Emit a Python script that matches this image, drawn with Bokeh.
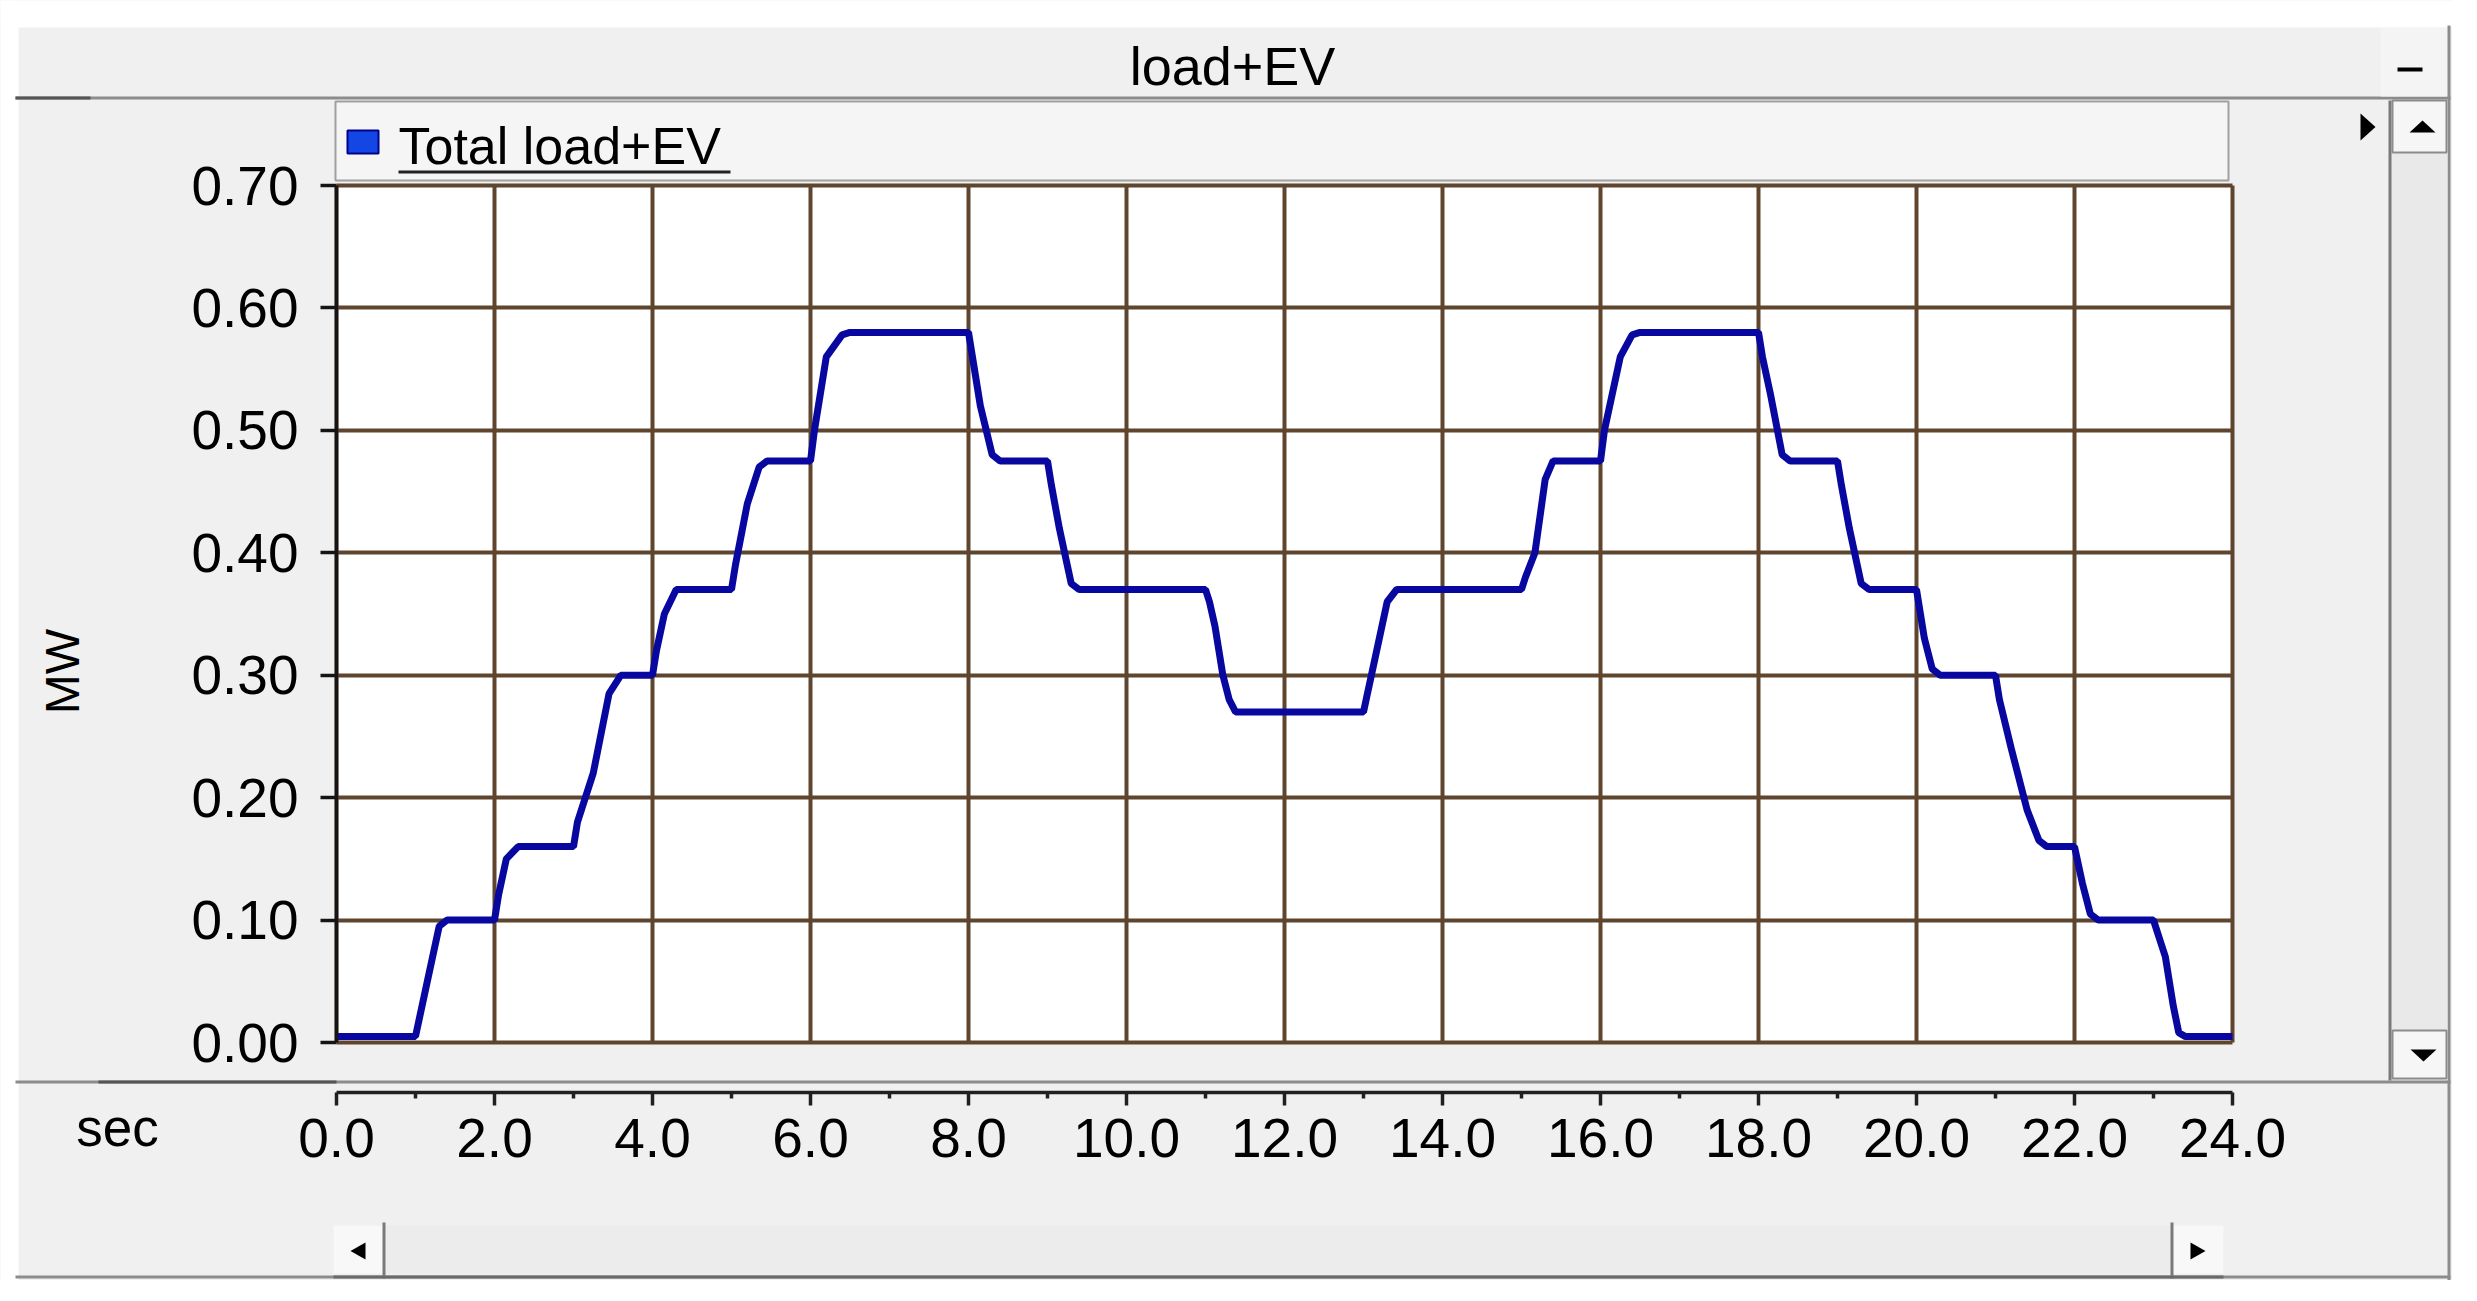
from bokeh.plotting import figure
from bokeh.models import FixedTicker, LinearAxis, Range1d, Grid
from bokeh.core.properties import value
from bokeh.embed import file_html
from bokeh.resources import INLINE

# ---------------- data ----------------
time_h = [0.0, 1.0, 1.05, 1.15, 1.3, 1.4,
          2.0, 2.05, 2.15, 2.3,
          3.0, 3.05, 3.25, 3.45, 3.6,
          4.0, 4.05, 4.15, 4.3,
          5.0, 5.05, 5.2, 5.35, 5.45,
          6.0, 6.05, 6.2, 6.4, 6.5,
          8.0, 8.05, 8.15, 8.3, 8.4,
          9.0, 9.05, 9.15, 9.3, 9.4,
          11.0, 11.05, 11.12, 11.22, 11.3, 11.38,
          13.0, 13.05, 13.1, 13.2, 13.3, 13.42,
          15.0, 15.05, 15.17, 15.3, 15.4,
          16.0, 16.05, 16.25, 16.4, 16.5,
          18.0, 18.05, 18.15, 18.3, 18.4,
          19.0, 19.05, 19.15, 19.3, 19.4,
          20.0, 20.05, 20.1, 20.2, 20.3,
          21.0, 21.05, 21.2, 21.4, 21.55, 21.65,
          22.0, 22.05, 22.1, 22.2, 22.3,
          23.0, 23.05, 23.15, 23.25, 23.32, 23.4,
          24.0]
load_mw = [0.005, 0.005, 0.02, 0.05, 0.095, 0.10,
           0.10, 0.12, 0.15, 0.16,
           0.16, 0.18, 0.22, 0.285, 0.30,
           0.30, 0.32, 0.35, 0.37,
           0.37, 0.39, 0.44, 0.47, 0.475,
           0.475, 0.50, 0.56, 0.578, 0.58,
           0.58, 0.56, 0.52, 0.48, 0.475,
           0.475, 0.455, 0.42, 0.375, 0.37,
           0.37, 0.36, 0.34, 0.30, 0.28, 0.27,
           0.27, 0.285, 0.30, 0.33, 0.36, 0.37,
           0.37, 0.38, 0.40, 0.46, 0.475,
           0.475, 0.50, 0.56, 0.578, 0.58,
           0.58, 0.56, 0.53, 0.48, 0.475,
           0.475, 0.455, 0.42, 0.375, 0.37,
           0.37, 0.35, 0.33, 0.305, 0.30,
           0.30, 0.28, 0.24, 0.19, 0.165, 0.16,
           0.16, 0.145, 0.13, 0.105, 0.10,
           0.10, 0.09, 0.07, 0.03, 0.008, 0.005,
           0.005]

x_ticks = [0, 2, 4, 6, 8, 10, 12, 14, 16, 18, 20, 22, 24]
x_tick_labels = ["0.0", "2.0", "4.0", "6.0", "8.0", "10.0", "12.0", "14.0",
                 "16.0", "18.0", "20.0", "22.0", "24.0"]
x_minor_ticks = [1, 3, 5, 7, 9, 11, 13, 15, 17, 19, 21, 23]
y_ticks = [0.0, 0.1, 0.2, 0.3, 0.4, 0.5, 0.6, 0.7]
y_tick_labels = ["0.00", "0.10", "0.20", "0.30", "0.40", "0.50", "0.60", "0.70"]
x_limits = (0, 24)
y_limits = (0, 0.7)

series_name = "Total load+EV"
window_title = "load+EV"
y_label = "MW"
x_label = "sec"

# ---------------- layout & styling ----------------
FONT = "Liberation Sans"
BG = "#f0f0f0"
GRID = "#5f452d"
LINE = "#0808a0"
EDGE = "#8c8c8c"

W, H = 2452, 1280
# pixel box of the plotting area inside the window
PL, PR, PT, PB = 336, 2232, 185, 1042
RULER_Y = 1092  # pixel row of the time ruler

sx = (x_limits[1] - x_limits[0]) / (PR - PL)
sy = (y_limits[1] - y_limits[0]) / (PB - PT)
x_range = Range1d(x_limits[0] - PL * sx, x_limits[1] + (W - PR) * sx)
y_range = Range1d(y_limits[0] - (H - PB) * sy, y_limits[1] + PT * sy)
ruler_at = y_limits[0] - (RULER_Y - PB) * sy

p = figure(width=W, height=H, output_backend="svg", toolbar_location=None,
           x_range=x_range, y_range=y_range,
           x_axis_location=None, y_axis_location=None, title=None,
           min_border=0)
p.extra_x_ranges = {"px": Range1d(0, W)}
p.extra_y_ranges = {"py": Range1d(H, 0)}
p.center = []
p.border_fill_color = BG
p.background_fill_color = BG
p.outline_line_color = None


def box(l, t, r, b, fill, line=None, lw=0, level="image"):
    p.quad(left=[l], right=[r], top=[t], bottom=[b], x_range_name="px", y_range_name="py",
           fill_color=fill, line_color=line, line_width=lw, level=level)


def tri(xs, ys):
    p.patch(xs, ys, x_range_name="px", y_range_name="py", fill_color="black",
            line_color=None, level="overlay")


def text(x, y, s, size, align="left", angle=0.0, baseline="alphabetic"):
    p.text(x=[x], y=[y], text=[s], x_range_name="px", y_range_name="py",
           text_font=value(FONT), text_font_size=value(size), text_color="black",
           text_align=align, text_baseline=baseline, angle=angle, level="overlay")


# white outside the window
box(0, 0, W, 27, "white")
box(0, 0, 18, H, "white")
# plot area background
box(PL, PT, PR, PB, "white")

# grid lines (bounded to the plotting area)
if "cross_bounds" in Grid.properties():
    p.add_layout(Grid(dimension=0, ticker=FixedTicker(ticks=x_ticks), bounds=x_limits,
                      cross_bounds=y_limits, grid_line_color=GRID, grid_line_width=4))
    p.add_layout(Grid(dimension=1, ticker=FixedTicker(ticks=y_ticks), bounds=y_limits,
                      cross_bounds=x_limits, grid_line_color=GRID, grid_line_width=4))
else:
    p.segment(x0=x_ticks, x1=x_ticks, y0=[y_limits[0]] * len(x_ticks),
              y1=[y_limits[1]] * len(x_ticks), line_color=GRID, line_width=4)
    p.segment(x0=[x_limits[0]] * len(y_ticks), x1=[x_limits[1]] * len(y_ticks),
              y0=y_ticks, y1=y_ticks, line_color=GRID, line_width=4)

# y axis at the left edge of the plotting area
yaxis = LinearAxis(ticker=FixedTicker(ticks=y_ticks), fixed_location=x_limits[0],
                   bounds=y_limits,
                   major_label_overrides={t: s for t, s in zip(y_ticks, y_tick_labels)},
                   axis_line_color="#151515", axis_line_width=3.5,
                   major_tick_out=16, major_tick_in=0, major_tick_line_width=3.5,
                   major_tick_line_color="#151515",
                   minor_tick_line_color=None,
                   major_label_text_font=FONT, major_label_text_font_size="55px",
                   major_label_text_color="black", major_label_standoff=22)
p.add_layout(yaxis, "left")

# time ruler below the plotting area
xaxis = LinearAxis(ticker=FixedTicker(ticks=x_ticks, minor_ticks=x_minor_ticks),
                   fixed_location=ruler_at, bounds=x_limits,
                   major_label_overrides={t: s for t, s in zip(x_ticks, x_tick_labels)},
                   axis_line_color="#202020", axis_line_width=3.5,
                   major_tick_out=13, major_tick_in=0, major_tick_line_width=3.5,
                   major_tick_line_color="#202020",
                   minor_tick_out=6, minor_tick_in=0, minor_tick_line_width=3.5,
                   minor_tick_line_color="#202020",
                   major_label_text_font=FONT, major_label_text_font_size="55px",
                   major_label_text_color="black", major_label_standoff=13)
p.add_layout(xaxis, "below")

# data line
p.line(time_h, load_mw, line_color=LINE, line_width=7)

# ---------------- window chrome ----------------
# title bar separator
box(15, 96, 2450, 99, EDGE)
box(15, 96, 90, 99, "#555555")
# minimize button
box(2380, 27, 2447, 96, "#f4f4f4")
box(2397, 67, 2422, 71, "black", level="overlay")
box(2447, 25, 2450, H, EDGE)
# legend strip with swatch and underline
box(335, 101, 2228, 180, "#f5f5f5", line="#a0a0a0", lw=2)
box(347, 130, 378, 153, "#1446e6", line="#00008a", lw=2, level="overlay")
box(398, 170, 730, 173, "#222222", level="overlay")
# small arrow at top right
tri([2360, 2360, 2375], [113, 140, 126.5])
# vertical scrollbar
box(2390, 100, 2447, 1080, "#e9e9e9")
box(2388, 100, 2391, 1080, "#7a7a7a")
box(2392, 100, 2446, 152, "#f6f6f6", line=EDGE, lw=2)
box(2392, 1030, 2446, 1078, "#f6f6f6", line=EDGE, lw=2)
tri([2409, 2435, 2422], [132, 132, 120])
tri([2410, 2436, 2423], [1049, 1049, 1061])
# separator above the ruler
box(15, 1080, 2450, 1083, EDGE)
box(98, 1080, 336, 1083, "#555555")
# horizontal scrollbar
box(333, 1225, 2223, 1273, "#ececec")
box(333, 1225, 383, 1273, "#f8f8f8")
box(382, 1222, 385, 1278, "#7a7a7a")
box(2171, 1225, 2223, 1273, "#f8f8f8")
box(2170, 1222, 2173, 1278, "#7a7a7a")
tri([365, 365, 350], [1242, 1259, 1250.5])
tri([2190, 2190, 2205], [1242, 1259, 1250.5])
# bottom window edge
box(15, 1275, 2450, 1278, EDGE)
box(333, 1275, 2223, 1278, "#6a6a6a")

# texts
text(398, 145, series_name, "52px")
text(1232, 65, window_title, "54px", align="center")
text(117, 1127, x_label, "53px", align="center")
text(62, 671, y_label, "48px", align="center", angle=1.5707963, baseline="middle")

open("out.html", "w").write(file_html(p, INLINE))
